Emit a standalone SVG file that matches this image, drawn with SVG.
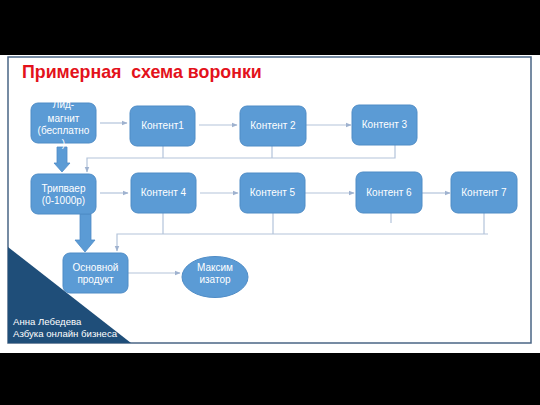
<svg xmlns="http://www.w3.org/2000/svg" width="540" height="405" viewBox="0 0 540 405">
<defs>
<style>
.node{fill:#5b9bd5;stroke:#4f8cc6;stroke-width:1}
.t{font-family:"Liberation Sans",Arial,sans-serif;font-size:10px;fill:#ffffff;text-anchor:middle}
.c{fill:none;stroke:#b3c3da;stroke-width:1.2}
.big{fill:#5b9bd5;stroke:#4f8cc6;stroke-width:0.8}
</style>
<marker id="ah" viewBox="0 0 10 10" refX="9" refY="5" markerWidth="5" markerHeight="5" orient="auto" markerUnits="strokeWidth">
<path d="M0,1 L10,5 L0,9 z" fill="#9fb2cf"/>
</marker>
</defs>
<rect x="0" y="0" width="540" height="405" fill="#000000"/>
<rect x="0" y="55" width="540" height="298" fill="#ffffff"/>
<rect x="8" y="57" width="523" height="286" fill="#ffffff" stroke="#4a6585" stroke-width="1.5"/>
<polygon points="8,247 131,343 8,343" fill="#1f4e79"/>
<text x="22" y="78" font-family="'Liberation Sans',Arial,sans-serif" font-size="17.8" font-weight="bold" fill="#e3121b" xml:space="preserve">Примерная  схема воронки</text>
<g id="connectors">
<line class="c" x1="100" y1="123" x2="127" y2="123" marker-end="url(#ah)"/>
<line class="c" x1="199" y1="125" x2="237" y2="125" marker-end="url(#ah)"/>
<line class="c" x1="306" y1="125" x2="351" y2="125" marker-end="url(#ah)"/>
<polyline class="c" points="163,146 163,158"/>
<polyline class="c" points="272,146 272,158"/>
<polyline class="c" points="395,145 395,158 87,158 87,172" marker-end="url(#ah)"/>
<line class="c" x1="100" y1="193" x2="128" y2="193" marker-end="url(#ah)"/>
<line class="c" x1="200" y1="193" x2="238" y2="193" marker-end="url(#ah)"/>
<line class="c" x1="305" y1="193" x2="354" y2="193" marker-end="url(#ah)"/>
<line class="c" x1="422" y1="193" x2="450" y2="193" marker-end="url(#ah)"/>
<polyline class="c" points="163,213 163,234"/>
<polyline class="c" points="273,213 273,234"/>
<polyline class="c" points="391,213 391,223"/>
<polyline class="c" points="484,213 484,234 488,234 117,234 117,251" marker-end="url(#ah)"/>
<line class="c" x1="128" y1="273" x2="180" y2="273" marker-end="url(#ah)"/>
<polygon class="big" points="57,147 67,147 67,163 70,163 62,172 54,163 57,163"/>
<polygon class="big" points="80,214 91,214 91,240 95,240 85,252 75,240 80,240"/>
</g>
<g id="lead">
<rect class="node" x="31" y="103" width="65" height="40" rx="7"/>
<text class="t" x="63.5" y="108">Лид-</text>
<text class="t" x="63.5" y="122">магнит</text>
<text class="t" x="63.5" y="134">(бесплатно</text>
<text class="t" x="63.5" y="147">)</text>
</g>
<g id="k1"><rect class="node" x="130" y="106" width="65" height="40" rx="7"/><text class="t" x="162.5" y="129">Контент1</text></g>
<g id="k2"><rect class="node" x="240" y="106" width="66" height="40" rx="7"/><text class="t" x="273" y="129">Контент 2</text></g>
<g id="k3"><rect class="node" x="352" y="105" width="65" height="40" rx="7"/><text class="t" x="384.5" y="128">Контент 3</text></g>
<g id="trip">
<rect class="node" x="31" y="174" width="65" height="40" rx="7"/>
<text class="t" x="63.5" y="192">Трипваер</text>
<text class="t" x="63.5" y="204">(0-1000р)</text>
</g>
<g id="k4"><rect class="node" x="131" y="173" width="65" height="40" rx="7"/><text class="t" x="163.5" y="196">Контент 4</text></g>
<g id="k5"><rect class="node" x="240" y="173" width="65" height="40" rx="7"/><text class="t" x="272.5" y="196">Контент 5</text></g>
<g id="k6"><rect class="node" x="356" y="172" width="66" height="41" rx="7"/><text class="t" x="389" y="196">Контент 6</text></g>
<g id="k7"><rect class="node" x="451" y="172" width="66" height="41" rx="7"/><text class="t" x="484" y="196">Контент 7</text></g>
<g id="main">
<rect class="node" x="63" y="253" width="65" height="40" rx="7"/>
<text class="t" x="95.5" y="271">Основной</text>
<text class="t" x="95.5" y="283">продукт</text>
</g>
<g id="max">
<ellipse class="node" cx="215" cy="277" rx="33" ry="20.5"/>
<text class="t" x="215" y="271">Максим</text>
<text class="t" x="215" y="283">изатор</text>
</g>
<text x="13" y="325" font-family="'Liberation Sans',Arial,sans-serif" font-size="9.6" fill="#ffffff">Анна Лебедева</text>
<text x="13" y="337" font-family="'Liberation Sans',Arial,sans-serif" font-size="9.6" fill="#ffffff">Азбука онлайн бизнеса</text>
</svg>
